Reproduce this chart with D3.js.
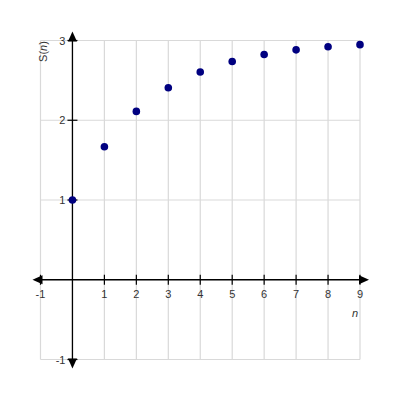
<!DOCTYPE html>
<html><head><meta charset="utf-8">
<script src="https://cdn.jsdelivr.net/npm/d3@7"></script>
<style>body{margin:0;background:#fff}</style>
</head><body>
<svg id="c" width="400" height="400"></svg>
<script>
const nValues = [0,1,2,3,4,5,6,7,8,9];
const sValues = [1, 1.667, 2.111, 2.407, 2.605, 2.737, 2.824, 2.883, 2.922, 2.948];
const xTicks = [-1,1,2,3,4,5,6,7,8,9];
const yTicks = [-1,1,2,3];
const xGrid = [-1,0,1,2,3,4,5,6,7,8,9];
const yGrid = [-1,0,1,2,3];

const svg = d3.select("#c");
const x = d3.scaleLinear().domain([-1,9]).range([40.5,360]);
const y = d3.scaleLinear().domain([-1,3]).range([359.5,40.5]);

const g = svg.append("g");
g.selectAll("line.gx").data(xGrid).join("line")
  .attr("x1",d=>x(d)).attr("x2",d=>x(d)).attr("y1",y(-1)).attr("y2",y(3))
  .attr("stroke","#d9d9d9").attr("stroke-width",1.2);
g.selectAll("line.gy").data(yGrid).join("line")
  .attr("y1",d=>y(d)).attr("y2",d=>y(d)).attr("x1",x(-1)).attr("x2",x(9))
  .attr("stroke","#d9d9d9").attr("stroke-width",1.2);

// axes
const x0 = x(0), y0 = y(0);
svg.append("line").attr("x1",x(-1)-4).attr("x2",x(9)+4).attr("y1",y0).attr("y2",y0).attr("stroke","#000").attr("stroke-width",1.3);
svg.append("line").attr("x1",x0).attr("x2",x0).attr("y1",y(3)-4).attr("y2",y(-1)+4).attr("stroke","#000").attr("stroke-width",1.3);
// arrows
const arr = (pts)=>svg.append("path").attr("d","M"+pts.map(p=>p.join(",")).join("L")+"Z").attr("fill","#000");
arr([[x(-1)-8,y0],[x(-1)+2,y0-4.5],[x(-1)+2,y0+4.5]]);
arr([[x(9)+9,y0],[x(9)-1,y0-4.5],[x(9)-1,y0+4.5]]);
arr([[x0,y(3)-9],[x0-4.5,y(3)+1],[x0+4.5,y(3)+1]]);
arr([[x0,y(-1)+9],[x0-4.5,y(-1)-1],[x0+4.5,y(-1)-1]]);

// ticks
svg.selectAll("line.tx").data(xTicks).join("line")
  .attr("x1",d=>x(d)).attr("x2",d=>x(d)).attr("y1",y0-5).attr("y2",y0+5)
  .attr("stroke","#000").attr("stroke-width",1.2);
svg.selectAll("line.ty").data(yTicks).join("line")
  .attr("y1",d=>y(d)).attr("y2",d=>y(d)).attr("x1",x0-5).attr("x2",x0+5)
  .attr("stroke","#000").attr("stroke-width",1.2);

const font = "'Liberation Sans', Arial, sans-serif";
svg.selectAll("text.lx").data(xTicks).join("text")
  .attr("x",d=>x(d)).attr("y",y0+18).attr("text-anchor","middle")
  .attr("font-family",font).attr("font-size",11).attr("fill","#333").text(d=>d);
svg.selectAll("text.ly").data(yTicks).join("text")
  .attr("x",x0-7).attr("y",d=>y(d)+4).attr("text-anchor","end")
  .attr("font-family",font).attr("font-size",11).attr("fill","#333").text(d=>d);

// axis titles
const t = svg.append("text").attr("transform",`translate(${x(-1)+6},${y(3)+11}) rotate(-90)`)
  .attr("text-anchor","middle").attr("font-family",font).attr("font-size",11).attr("fill","#333");
t.append("tspan").text("S(");
t.append("tspan").attr("font-style","italic").text("n");
t.append("tspan").text(")");
svg.append("text").attr("x",x(9)-5).attr("y",y0+37).attr("text-anchor","middle")
  .attr("font-family",font).attr("font-size",11).attr("font-style","italic").attr("fill","#333").text("n");

// points
svg.selectAll("circle").data(nValues).join("circle")
  .attr("cx",(d)=>x(d)).attr("cy",(d,i)=>y(sValues[i])).attr("r",3.8).attr("fill","#000080");
</script>
</body></html>
